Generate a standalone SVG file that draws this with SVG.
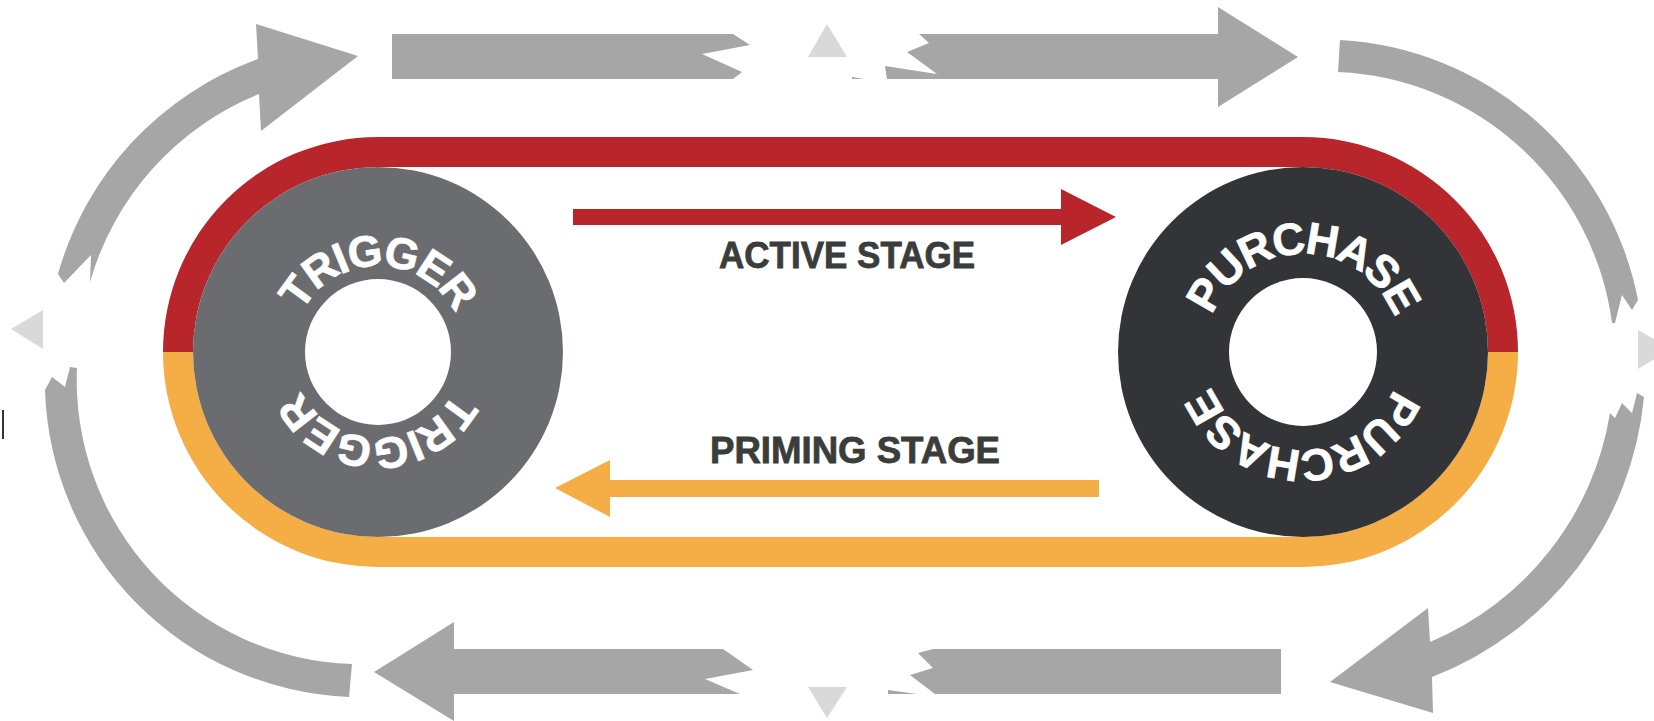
<svg xmlns="http://www.w3.org/2000/svg" xmlns:xlink="http://www.w3.org/1999/xlink" width="1654" height="721" viewBox="0 0 1654 721">
  <style>
    .cyc { fill: #a6a6a6; }
    .gap { fill: #d9d9d9; }
    .ring-text { font-family: "Liberation Sans", Arial, sans-serif; font-weight: bold; fill: #ffffff; stroke: #ffffff; stroke-width: 0.7; }
    .stage { font-family: "Liberation Sans", Arial, sans-serif; font-weight: bold; font-size: 37px; fill: #3a3d3a; stroke: #3a3d3a; stroke-width: 0.8; }
    .hole { fill: #ffffff; }
  </style>
  <defs>
    <path id="trigArc" d="M 292,352 A 86 86 0 0 1 464,352"/>
    <path id="purchArc" d="M 1205,352 A 98 98 0 0 1 1401,352"/>
  </defs>
  <rect width="1654" height="721" fill="#ffffff"/>

  <g id="band">
    <path fill="#b8252a" d="M 163,352 A 215 215 0 0 1 378,137 L 1303,137 A 215 215 0 0 1 1518,352 L 1488,352 A 185 185 0 0 0 1303,167 L 378,167 A 185 185 0 0 0 193,352 Z"/>
    <path fill="#f5ae45" d="M 163,352 A 215 215 0 0 0 378,567 L 1303,567 A 215 215 0 0 0 1518,352 L 1488,352 A 185 185 0 0 1 1303,537 L 378,537 A 185 185 0 0 1 193,352 Z"/>
  </g>

  <g id="connectors">
    <g id="cycle">
      <path class="cyc" d="M 258,59 A 321 321 0 0 0 58,274 L 64,283 L 91,255 L 90,282 A 288 288 0 0 1 259,94 L 261,131 L 358,56 L 256,24 Z"/>
      <path class="cyc" d="M 392,34 L 733,34 L 750,45 L 702,54 L 742,72 L 733,79 L 392,79 Z"/>
      <path class="cyc" d="M 919,34 L 1218,34 L 1218,7 L 1298,57 L 1218,107 L 1218,79 L 887,79 L 885,66 L 937,74 L 907,52 L 929,43 Z"/>
      <path class="cyc" d="M 852,77 L 864,79 L 852,79 Z"/>
      <path class="cyc" d="M 1340,40 A 322 322 0 0 1 1638,300 L 1632,310 L 1622,295 L 1615,323 L 1612,323 A 289 289 0 0 0 1338,72 Z"/>
      <path class="cyc" d="M 1644,397 L 1637,393 L 1632,413 L 1622,403 L 1615,418 L 1610,413 A 300 300 0 0 1 1430,642 L 1428,608 L 1330,682 L 1433,713 L 1432,677 A 333 333 0 0 0 1644,397 Z"/>
      <path class="cyc" d="M 933,649 L 1281,649 L 1281,694 L 935,694 L 910,675 L 933,668 L 918,653 Z"/>
      <path class="cyc" d="M 888,690 L 917,694 L 888,694 Z"/>
      <path class="cyc" d="M 374,672 L 454,622 L 454,649 L 723,649 L 753,670 L 705,679 L 740,694 L 454,694 L 454,721 Z"/>
      <path class="cyc" d="M 45,390 L 52,377 L 65,387 L 70,367 L 77,368 A 284 284 0 0 0 352,664 L 349,697 A 317 317 0 0 1 45,390 Z"/>
    </g>
    <g id="gaps">
      <path class="gap" d="M 808,57 L 827,24 L 847,57 Z"/>
      <path class="gap" d="M 808,687 L 847,687 L 827,718 Z"/>
      <path class="gap" d="M 11,329 L 43,310 L 43,349 Z"/>
      <path class="gap" d="M 1638,330 L 1638,369 L 1672,349 Z"/>
    </g>
    <path id="active-arrow" fill="#b8252a" d="M 573,209 L 1061,209 L 1061,189 L 1116,217 L 1061,245 L 1061,225 L 573,225 Z"/>
    <path id="priming-arrow" fill="#f5ae45" d="M 1099,480 L 610,480 L 610,460 L 555,488 L 610,517 L 610,497 L 1099,497 Z"/>
  </g>

  <g id="node-trigger">
    <circle cx="378" cy="352" r="185" fill="#6b6c70"/>
    <circle class="hole" cx="378" cy="352" r="73"/>
    <text class="ring-text" font-size="44" letter-spacing="-2"><textPath xlink:href="#trigArc" startOffset="50%" text-anchor="middle">TRIGGER</textPath></text>
    <text class="ring-text" font-size="44" letter-spacing="-2" transform="rotate(180 378 352)"><textPath xlink:href="#trigArc" startOffset="50%" text-anchor="middle">TRIGGER</textPath></text>
  </g>

  <g id="node-purchase">
    <circle cx="1303" cy="352" r="185" fill="#333438"/>
    <circle class="hole" cx="1303" cy="352" r="74"/>
    <text class="ring-text" font-size="45" letter-spacing="-2.5"><textPath xlink:href="#purchArc" startOffset="50%" text-anchor="middle">PURCHASE</textPath></text>
    <text class="ring-text" font-size="45" letter-spacing="-2.5" transform="rotate(180 1303 352)"><textPath xlink:href="#purchArc" startOffset="50%" text-anchor="middle">PURCHASE</textPath></text>
  </g>

  <g id="labels">
    <text class="stage" x="719" y="268" textLength="256" lengthAdjust="spacingAndGlyphs">ACTIVE STAGE</text>
    <text class="stage" x="710" y="463" textLength="290" lengthAdjust="spacingAndGlyphs">PRIMING STAGE</text>
  </g>

  <rect x="2" y="410" width="2" height="29" fill="#333333"/>
</svg>
